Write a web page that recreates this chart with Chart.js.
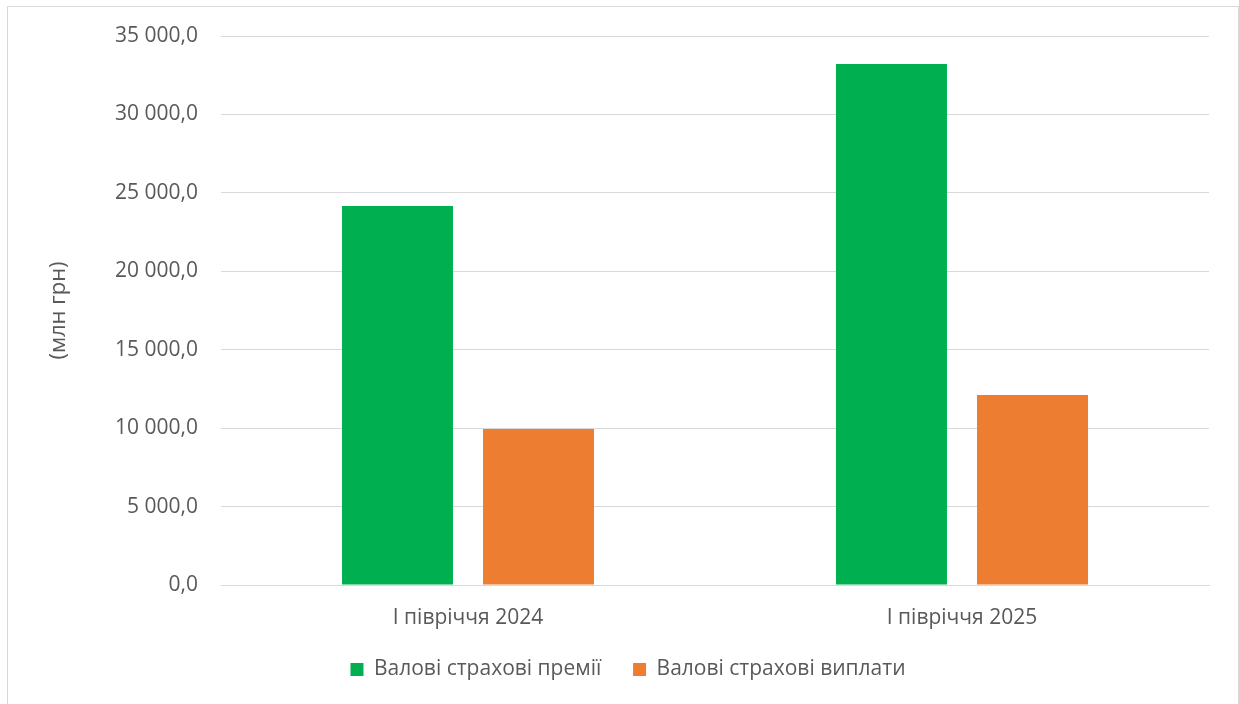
<!DOCTYPE html>
<html>
<head>
<meta charset="utf-8">
<script src="https://cdn.jsdelivr.net/npm/chart.js@4"></script>
<style>
  html, body { margin: 0; padding: 0; background: #fff; }
  #frame {
    position: absolute; left: 7px; top: 6px;
    width: 1230px; height: 720px;
    border: 1px solid #d9d9d9;
  }
  #wrap { position: absolute; left: 0; top: 0; width: 1239px; height: 704px; }
</style>
</head>
<body>
<div id="frame"></div>
<div id="wrap"><canvas id="chartIns"></canvas></div>
<script>
// data
const periods = ['І півріччя 2024', 'І півріччя 2025'];
const premiums = [24160, 33215];
const payouts = [9945, 12115];
const seriesNames = ['Валові страхові премії', 'Валові страхові виплати'];
const yTicks = [0, 5000, 10000, 15000, 20000, 25000, 30000, 35000];

const fontFamily = "'Open Sans', 'Noto Sans', sans-serif";
const textColor = '#595959';

let fmt = function (v) {
	let s = Math.abs(v).toFixed(1).split('.');
	let whole = s[0].replace(/\B(?=(\d{3})+(?!\d))/g, ' ');
	return whole + ',' + s[1];
};

let ctx = document.getElementById('chartIns').getContext('2d');

let chart = new Chart(ctx, {
	type: 'bar',
	data: {
		labels: periods,
		datasets: [
			{
				label: seriesNames[0],
				data: premiums,
				backgroundColor: '#00B050',
				categoryPercentage: 0.571,
				barPercentage: 0.787,
			},
			{
				label: seriesNames[1],
				data: payouts,
				backgroundColor: '#ED7D31',
				categoryPercentage: 0.571,
				barPercentage: 0.787,
			},
		],
	},
	options: {
		responsive: true,
		maintainAspectRatio: false,
		animation: false,
		layout: {
			padding: { top: 36, right: 30, bottom: 14, left: 47 },
		},
		plugins: {
			tooltip: { enabled: false },
			legend: {
				position: 'bottom',
				labels: {
					boxWidth: 13,
					boxHeight: 13,
					padding: 10,
					color: textColor,
					font: { family: fontFamily, size: 21 },
					// wider gap between the two entries, like the original
					generateLabels: function (c) {
						let items = Chart.defaults.plugins.legend.labels.generateLabels(c);
						items[0].text = items[0].text + '    ';
						return items;
					},
				},
			},
		},
		scales: {
			x: {
				grid: { display: false },
				border: { color: '#d9d9d9' },
				ticks: {
					color: textColor,
					padding: 12,
					font: { family: fontFamily, size: 21 },
				},
				afterFit: function (s) { s.height = 64; },
			},
			y: {
				min: 0,
				max: 35000,
				afterBuildTicks: function (s) {
					s.ticks = yTicks.map(function (v) { return { value: v }; });
				},
				grid: { color: '#d9d9d9', lineWidth: 1, drawTicks: false },
				border: { display: false },
				ticks: {
					color: textColor,
					padding: 23,
					font: { family: fontFamily, size: 21 },
					callback: function (v) { return fmt(v); },
				},
				title: {
					display: true,
					text: '(млн грн)',
					color: textColor,
					padding: { top: -1, bottom: 0 },
					font: { family: fontFamily, size: 22 },
				},
				afterFit: function (s) { s.width = 174; },
			},
		},
	},
});
</script>
</body>
</html>
